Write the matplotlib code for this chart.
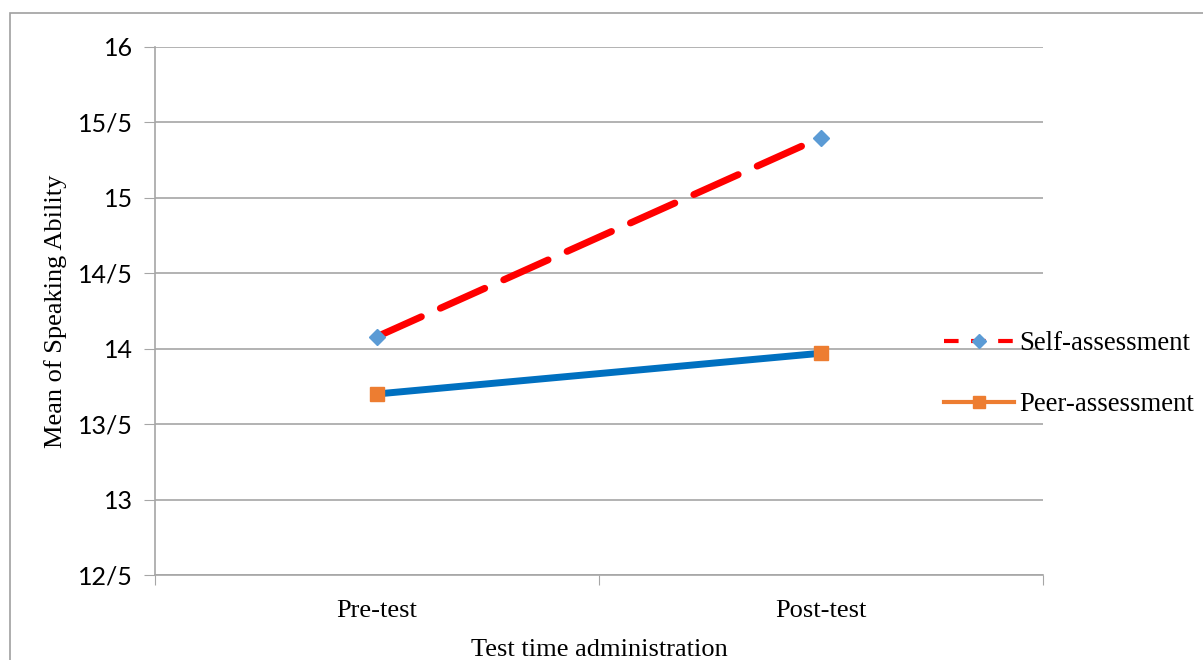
import matplotlib.pyplot as plt
from matplotlib.lines import Line2D
from matplotlib.patches import Rectangle

# mean speaking scores per test administration
phases = ['Pre-test', 'Post-test']
self_assessment = [14.08, 15.40]
peer_assessment = [13.70, 13.97]

y_ticks = [12.5, 13, 13.5, 14, 14.5, 15, 15.5, 16]
y_tick_labels = ['12/5', '13', '13/5', '14', '14/5', '15', '15/5', '16']

serif = ['Liberation Serif', 'DejaVu Serif']
grid_color = '#a6a6a6'

fig = plt.figure(figsize=(12.03, 6.6), dpi=100)
ax = fig.add_axes([155 / 1203, 1 - 575 / 660, 888 / 1203, 528 / 660])

# outer chart frame
fig.patches.append(Rectangle((10 / 1203, -0.05), 1.2, 1 - 13 / 660 + 0.05,
                             transform=fig.transFigure, fill=False,
                             edgecolor='#a0a0a0', linewidth=1.2))

x = range(len(phases))
ax.plot(x, self_assessment, color='#ff0000', linewidth=5, linestyle=(0, (7, 3)),
        dash_capstyle='round', solid_capstyle='round', zorder=3)
ax.plot(x, self_assessment, linestyle='none', marker='D', markersize=8,
        color='#5b9bd5', zorder=4)
ax.plot(x, peer_assessment, color='#0070c0', linewidth=5, zorder=3)
ax.plot(x, peer_assessment, linestyle='none', marker='s', markersize=10.5,
        color='#ed7d31', zorder=4)

ax.set_xlim(-0.5, len(phases) - 0.5)
ax.set_ylim(y_ticks[0], y_ticks[-1])
ax.set_yticks(y_ticks)
ax.set_yticklabels(y_tick_labels, fontsize=18, family=['Lato', 'DejaVu Sans'])
ax.tick_params(axis='y', length=8, color=grid_color, pad=8)

# category boundaries carry the tick marks, names sit in between
ax.set_xticks([-0.5, 0.5, 1.5])
ax.set_xticklabels([])
ax.set_xticks(list(x), minor=True)
ax.set_xticklabels(phases, minor=True, fontsize=19, family=serif)
ax.tick_params(axis='x', which='major', length=7, color=grid_color)
ax.tick_params(axis='x', which='minor', length=0, pad=18)

ax.grid(axis='y', color=grid_color, linewidth=1.2)
ax.set_axisbelow(True)
for side in ['top', 'right']:
    ax.spines[side].set_visible(False)
for side in ['left', 'bottom']:
    ax.spines[side].set_color(grid_color)
    ax.spines[side].set_linewidth(1.2)

ax.set_xlabel('Test time administration', fontsize=19, family=serif, labelpad=12)
ax.set_ylabel('Mean of Speaking Ability', fontsize=19, family=serif, labelpad=8)

handles = [
    Line2D([], [], color='#ff0000', linewidth=3, linestyle=(0, (3.5, 3)),
           marker='D', markersize=7, markerfacecolor='#5b9bd5',
           markeredgecolor='#5b9bd5'),
    Line2D([], [], color='#ed7d31', linewidth=3, marker='s', markersize=9,
           markerfacecolor='#ed7d31', markeredgecolor='#ed7d31'),
]
ax.legend(handles, ['Self-assessment', 'Peer-assessment'],
          loc='center left', bbox_to_anchor=(944 / 1203, 1 - 374 / 660),
          bbox_transform=fig.transFigure, frameon=False,
          prop={'family': serif, 'size': 19.3}, handlelength=2.6,
          handletextpad=0.2, labelspacing=1.35, borderpad=0, borderaxespad=0)

fig.savefig('out.png', dpi=100)
